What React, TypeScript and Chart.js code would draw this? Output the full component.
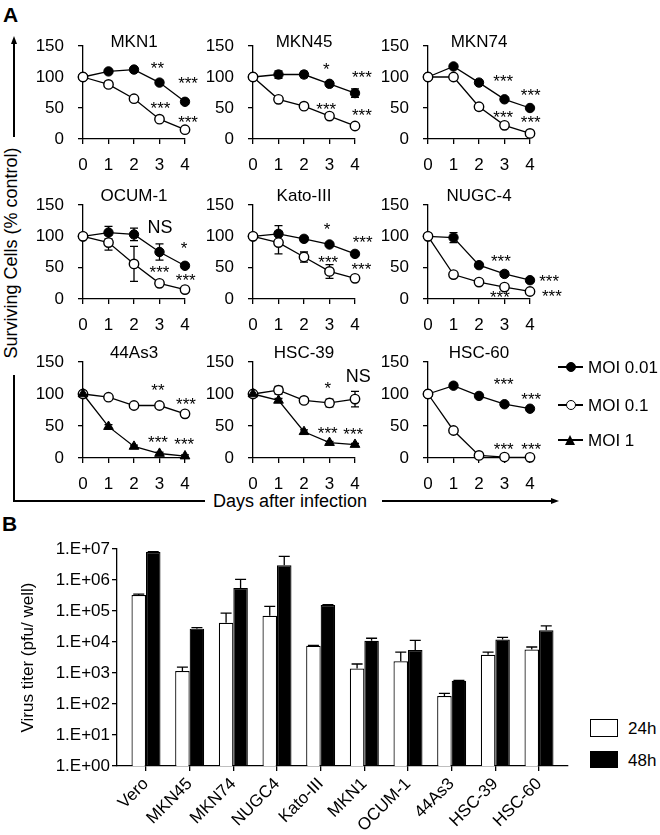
import React, { useEffect, useRef } from 'react';
import { Chart, registerables } from 'chart.js';

Chart.register(...registerables);

const FONT = '"Liberation Sans", Arial, Helvetica, sans-serif';

// ---------------- Panel A data ----------------
const days = [0, 1, 2, 3, 4];
const pctTicks = [0, 50, 100, 150];
const legendA = ['MOI 0.01', 'MOI 0.1', 'MOI 1'];

const mkn1Moi001 = [100, 109, 112, 91, 60];
const mkn1Moi001Err = [2, 2, 4, 3, 4];
const mkn1Moi01 = [100, 88, 65, 32, 15];
const mkn1Moi01Err = [2, 3, 2, 2, 2];
const mkn1Notes = [[2.92, 119, '**'], [4.12, 94, '***'], [3.04, 55, '***'], [4.12, 32, '***']];

const mkn45Moi001 = [100, 104, 104, 89, 74];
const mkn45Moi001Err = [2, 6, 5, 3, 7];
const mkn45Moi01 = [100, 64, 53, 37, 21];
const mkn45Moi01Err = [2, 3, 2, 2, 3];
const mkn45Notes = [[2.87, 118, '*'], [4.27, 104, '***'], [2.87, 53, '***'], [4.27, 43, '***']];

const mkn74Moi001 = [100, 117, 91, 64, 50];
const mkn74Moi001Err = [2, 3, 2, 3, 3];
const mkn74Moi01 = [100, 100, 52, 22, 9];
const mkn74Moi01Err = [2, 2, 5, 3, 2];
const mkn74Notes = [[2.95, 98, '***'], [4.03, 76, '***'], [2.95, 40, '***'], [4.03, 31, '***']];

const ocum1Moi001 = [100, 106, 103, 75, 53];
const ocum1Moi001Err = [3, 10, 10, 13, 4];
const ocum1Moi01 = [100, 90, 56, 25, 15];
const ocum1Moi01Err = [2, 12, 28, 3, 2];
const ocum1Notes = [[3.02, 113, 'NS'], [3.96, 86, '*'], [3.0, 48, '***'], [4.03, 34, '***']];

const kato3Moi001 = [100, 104, 96, 87, 72];
const kato3Moi001Err = [2, 13, 4, 3, 3];
const kato3Moi01 = [100, 90, 67, 44, 33];
const kato3Moi01Err = [2, 18, 8, 11, 3];
const kato3Notes = [[2.9, 116, '*'], [4.3, 96, '***'], [2.95, 64, '***'], [4.25, 52, '***']];

const nugc4Moi001 = [100, 98, 54, 40, 30];
const nugc4Moi001Err = [2, 8, 3, 4, 4];
const nugc4Moi01 = [100, 39, 27, 19, 12];
const nugc4Moi01Err = [2, 2, 2, 2, 2];
const nugc4Notes = [[2.86, 65, '***'], [4.75, 33, '***'], [2.82, 7, '***'], [4.86, 9, '***']];

const as44Moi01 = [100, 95, 82, 82, 69];
const as44Moi01Err = [2, 2, 2, 2, 3];
const as44Moi1 = [100, 49, 18, 7, 3];
const as44Moi1Err = [5, 3, 2, 2, 2];
const as44Notes = [[2.94, 111, '**'], [4.04, 89, '***'], [2.94, 29, '***'], [3.97, 26, '***']];

const hsc39Moi01 = [100, 106, 90, 86, 92];
const hsc39Moi01Err = [2, 6, 2, 6, 12];
const hsc39Moi1 = [100, 90, 41, 24, 21];
const hsc39Moi1Err = [3, 3, 3, 2, 2];
const hsc39Notes = [[2.93, 114, '*'], [4.13, 127, 'NS'], [2.93, 44, '***'], [3.93, 41, '***']];

const hsc60Moi001 = [100, 113, 97, 84, 77];
const hsc60Moi001Err = [2, 2, 2, 2, 2];
const hsc60Moi01 = [100, 43, 4, 1.5, 1];
const hsc60Moi01Err = [2, 2, 2, 1, 1];
const hsc60Notes = [[2.97, 120, '***'], [4.05, 97, '***'], [2.97, 18, '***'], [4.05, 18, '***']];

// ---------------- Panel B data ----------------
const cellLinesB = ['Vero', 'MKN45', 'MKN74', 'NUGC4', 'Kato-III', 'MKN1', 'OCUM-1', '44As3', 'HSC-39', 'HSC-60'];
const titer24h = [3.3e5, 1.15e3, 4.2e4, 7.0e4, 7.5e3, 1.4e3, 2.4e3, 1.8e2, 3.9e3, 5.7e3];
const titer24hSd = [2e4, 4.0e2, 4.3e4, 7.0e4, 3e2, 5.5e2, 2.3e3, 4e1, 8e2, 1.2e3];
const titer48h = [8.0e6, 2.7e4, 5.5e5, 3.0e6, 1.55e5, 1.1e4, 5.5e3, 5.6e2, 1.2e4, 2.4e4];
const titer48hSd = [2e5, 2e3, 4.9e5, 2.8e6, 5e3, 2.2e3, 5.7e3, 2e1, 2e3, 9e3];
const titerTicks = [1, 10, 100, 1e3, 1e4, 1e5, 1e6, 1e7];
const titerTickLabels = ['1.E+00', '1.E+01', '1.E+02', '1.E+03', '1.E+04', '1.E+05', '1.E+06', '1.E+07'];
const legendB = ['24h', '48h'];

type Kind = 'filled' | 'open' | 'tri';
const panels: any[] = [
  { title: 'MKN1', col: 0, row: 0, notes: mkn1Notes, series: [['filled', mkn1Moi001, mkn1Moi001Err], ['open', mkn1Moi01, mkn1Moi01Err]] },
  { title: 'MKN45', col: 1, row: 0, notes: mkn45Notes, series: [['filled', mkn45Moi001, mkn45Moi001Err], ['open', mkn45Moi01, mkn45Moi01Err]] },
  { title: 'MKN74', col: 2, row: 0, notes: mkn74Notes, series: [['filled', mkn74Moi001, mkn74Moi001Err], ['open', mkn74Moi01, mkn74Moi01Err]] },
  { title: 'OCUM-1', col: 0, row: 1, notes: ocum1Notes, series: [['filled', ocum1Moi001, ocum1Moi001Err], ['open', ocum1Moi01, ocum1Moi01Err]] },
  { title: 'Kato-III', col: 1, row: 1, notes: kato3Notes, series: [['filled', kato3Moi001, kato3Moi001Err], ['open', kato3Moi01, kato3Moi01Err]] },
  { title: 'NUGC-4', col: 2, row: 1, notes: nugc4Notes, series: [['filled', nugc4Moi001, nugc4Moi001Err], ['open', nugc4Moi01, nugc4Moi01Err]] },
  { title: '44As3', col: 0, row: 2, notes: as44Notes, series: [['open', as44Moi01, as44Moi01Err], ['tri', as44Moi1, as44Moi1Err]] },
  { title: 'HSC-39', col: 1, row: 2, notes: hsc39Notes, series: [['open', hsc39Moi01, hsc39Moi01Err], ['tri', hsc39Moi1, hsc39Moi1Err]] },
  { title: 'HSC-60', col: 2, row: 2, notes: hsc60Notes, series: [['filled', hsc60Moi001, hsc60Moi001Err], ['open', hsc60Moi01, hsc60Moi01Err]] },
];

// ---------------- layout ----------------
const colAxisX = [83, 253, 428];
const plotW = 102;
const rowTop = [46, 205, 362];
const rowBottom = [139, 299, 458];
const titleOffset = [3.5, 9, 9];
const Y_W = 60;
const PAD_T = 40;
const PAD_R = 48;
const X_H = 40;

const kindStyle: Record<Kind, any> = {
  filled: { pointStyle: 'circle', pointRadius: 4.7, pointBackgroundColor: '#000', pointBorderColor: '#000', pointBorderWidth: 1, order: 2 },
  open: { pointStyle: 'circle', pointRadius: 4.7, pointBackgroundColor: '#fff', pointBorderColor: '#000', pointBorderWidth: 1.4, order: 1 },
  tri: { pointStyle: 'triangle', pointRadius: 5.6, pointBackgroundColor: '#000', pointBorderColor: '#000', pointBorderWidth: 1, order: 0 },
};

function drawErrors(chart: any, mode: 'sym' | 'up', cap: number) {
  const { ctx } = chart;
  const ys = chart.scales.y;
  ctx.save();
  ctx.strokeStyle = '#000';
  ctx.lineWidth = 1.3;
  chart.data.datasets.forEach((ds: any, di: number) => {
    const errs = ds.errors;
    if (!errs) return;
    const meta = chart.getDatasetMeta(di);
    meta.data.forEach((el: any, i: number) => {
      const e = errs[i];
      if (!e) return;
      const v = ds.data[i].y;
      const px = el.x;
      const top = ys.getPixelForValue(v + e);
      const bot = mode === 'up' ? ys.getPixelForValue(v) : ys.getPixelForValue(Math.max(v - e, 0.0001));
      ctx.beginPath();
      ctx.moveTo(px, top);
      ctx.lineTo(px, bot);
      ctx.moveTo(px - cap, top);
      ctx.lineTo(px + cap, top);
      if (mode === 'sym') {
        ctx.moveTo(px - cap, bot);
        ctx.lineTo(px + cap, bot);
      }
      ctx.stroke();
    });
  });
  ctx.restore();
}

const symErrPlugin = {
  id: 'symErr',
  beforeDatasetsDraw(chart: any) {
    drawErrors(chart, 'sym', 4);
  },
};
const upErrPlugin = {
  id: 'upErr',
  afterDatasetsDraw(chart: any) {
    drawErrors(chart, 'up', 5.5);
  },
};

const makeNotesPlugin = (items: any[]) => ({
  id: 'notes',
  afterDatasetsDraw(chart: any) {
    const { ctx } = chart;
    ctx.save();
    ctx.fillStyle = '#000';
    ctx.textAlign = 'center';
    ctx.textBaseline = 'middle';
    for (const [x, v, t] of items) {
      const px = chart.scales.x.getPixelForValue(x);
      let py = chart.scales.y.getPixelForValue(v);
      if (t === 'NS') {
        ctx.font = `18px ${FONT}`;
      } else {
        ctx.font = `17px ${FONT}`;
        py += 4;
      }
      ctx.fillText(t, px, py);
    }
    ctx.restore();
  },
});

const makeTitlePlugin = (text: string, offset: number) => ({
  id: 'panelTitle',
  afterDraw(chart: any) {
    const { ctx, chartArea } = chart;
    ctx.save();
    ctx.font = `17px ${FONT}`;
    ctx.fillStyle = '#000';
    ctx.textAlign = 'center';
    ctx.textBaseline = 'middle';
    ctx.fillText(text, (chartArea.left + chartArea.right) / 2, chartArea.top - offset);
    ctx.restore();
  },
});

const axisGrid = { drawOnChartArea: false, drawTicks: true, tickLength: 5, color: '#000', lineWidth: 1.3 };
const axisBorder = { display: true, color: '#000', width: 1.3 };
const tickFont = { family: FONT, size: 17 };

function lineConfig(p: any): any {
  const datasets = p.series.map(([kind, values, errs]: any) => ({
    label: kind,
    data: values.map((v: number, i: number) => ({ x: days[i], y: v })),
    errors: errs,
    borderColor: '#000',
    borderWidth: 1.3,
    clip: false,
    tension: 0,
    ...kindStyle[kind as Kind],
  }));
  return {
    type: 'line',
    data: { datasets },
    options: {
      responsive: false,
      animation: false,
      events: [],
      layout: { padding: { top: PAD_T, right: PAD_R, left: 0, bottom: 0 } },
      plugins: { legend: { display: false }, tooltip: { enabled: false } },
      scales: {
        x: {
          type: 'linear',
          min: 0,
          max: 4,
          afterBuildTicks: (s: any) => { s.ticks = days.map((v) => ({ value: v })); },
          afterFit: (s: any) => { s.height = X_H; },
          grid: axisGrid,
          border: axisBorder,
          ticks: { color: '#000', font: tickFont, padding: 11, maxRotation: 0, autoSkip: false },
        },
        y: {
          type: 'linear',
          min: 0,
          max: 150,
          afterBuildTicks: (s: any) => { s.ticks = pctTicks.map((v) => ({ value: v })); },
          afterFit: (s: any) => { s.width = Y_W; },
          grid: axisGrid,
          border: axisBorder,
          ticks: { color: '#000', font: tickFont, padding: 14 },
        },
      },
    },
    plugins: [symErrPlugin, makeNotesPlugin(p.notes), makeTitlePlugin(p.title, titleOffset[p.row])],
  };
}

// Panel B geometry
const B_LEFT = 0;
const B_AXIS_X = 117;
const B_RIGHT = 568;
const B_TOP = 549;
const B_BOTTOM = 766;
const B_PAD_T = 15;
const B_X_H = 69;
const B_PAD_R = 10;

function barConfig(): any {
  return {
    type: 'bar',
    data: {
      datasets: [
        {
          label: legendB[0],
          data: titer24h.map((v, i) => ({ x: i, y: v })),
          errors: titer24hSd,
          backgroundColor: '#fff',
          borderColor: '#000',
          borderWidth: 1.2,
          categoryPercentage: 0.664,
          barPercentage: 1,
        },
        {
          label: legendB[1],
          data: titer48h.map((v, i) => ({ x: i, y: v })),
          errors: titer48hSd,
          backgroundColor: '#000',
          borderColor: '#000',
          borderWidth: 1.2,
          categoryPercentage: 0.664,
          barPercentage: 1,
        },
      ],
    },
    options: {
      responsive: false,
      animation: false,
      events: [],
      layout: { padding: { top: B_PAD_T, right: B_PAD_R, left: 0, bottom: 0 } },
      plugins: { legend: { display: false }, tooltip: { enabled: false } },
      scales: {
        x: {
          type: 'linear',
          min: -0.664,
          max: cellLinesB.length - 1 + 0.664,
          offset: false,
          afterBuildTicks: (s: any) => { s.ticks = cellLinesB.map((_, i) => ({ value: i })); },
          afterFit: (s: any) => { s.height = B_X_H; },
          grid: { ...axisGrid, offset: false },
          border: axisBorder,
          ticks: {
            color: '#000',
            font: tickFont,
            padding: 3,
            autoSkip: false,
            minRotation: 45,
            maxRotation: 45,
            callback: (_v: any, i: number) => cellLinesB[i],
          },
        },
        y: {
          type: 'logarithmic',
          min: 1,
          max: 1e7,
          afterBuildTicks: (s: any) => { s.ticks = titerTicks.map((v) => ({ value: v })); },
          afterFit: (s: any) => { s.width = B_AXIS_X - B_LEFT; },
          grid: axisGrid,
          border: axisBorder,
          ticks: { color: '#000', font: tickFont, padding: 2, callback: (_v: any, i: number) => titerTickLabels[i] },
          title: {
            display: true,
            text: 'Virus titer (pfu/ well)',
            color: '#000',
            font: { family: FONT, size: 17 },
            padding: { top: 18, bottom: 0 },
          },
        },
      },
    },
    plugins: [upErrPlugin],
  };
}

function ChartBox({ left, top, width, height, make }: any) {
  const ref = useRef<HTMLCanvasElement>(null);
  useEffect(() => {
    const chart = new Chart(ref.current as HTMLCanvasElement, make());
    return () => chart.destroy();
  }, []);
  return (
    <canvas
      ref={ref}
      width={width}
      height={height}
      style={{ position: 'absolute', left, top, width, height }}
    />
  );
}

const abs = (s: any) => ({ position: 'absolute' as const, ...s });
const bar = (l: number, t: number, w: number, h: number, key: string) => (
  <div key={key} style={abs({ left: l, top: t, width: w, height: h, background: '#000' })} />
);
const textAt = (x: number, y: number, text: string, size: number, extra: any = {}) => (
  <div
    style={abs({
      left: x,
      top: y,
      transform: 'translate(-50%, -50%)' + (extra.rotate ? ` rotate(${extra.rotate}deg)` : ''),
      fontSize: size,
      lineHeight: 1,
      whiteSpace: 'nowrap',
      fontFamily: FONT,
      color: '#000',
      fontWeight: extra.bold ? 'bold' : 'normal',
    })}
  >
    {text}
  </div>
);

function LegendMarker({ kind, cx, cy }: { kind: Kind; cx: number; cy: number }) {
  if (kind === 'tri') {
    return (
      <div
        style={abs({
          left: cx - 5.5,
          top: cy - 5.5,
          width: 0,
          height: 0,
          borderLeft: '5.5px solid transparent',
          borderRight: '5.5px solid transparent',
          borderBottom: '10px solid #000',
        })}
      />
    );
  }
  return (
    <div
      style={abs({
        left: cx - 5,
        top: cy - 5,
        width: 10,
        height: 10,
        boxSizing: 'border-box',
        borderRadius: '50%',
        border: '1.4px solid #000',
        background: kind === 'filled' ? '#000' : '#fff',
      })}
    />
  );
}

const legendAY = [367, 405, 440];
const legendAKinds: Kind[] = ['filled', 'open', 'tri'];

export default function App() {
  return (
    <div style={abs({ left: 0, top: 0, width: 660, height: 835, background: '#fff', overflow: 'hidden', fontFamily: FONT })}>
      {/* panel letters */}
      <div style={abs({ left: 3, top: 4, fontSize: 21, lineHeight: 1, fontWeight: 'bold', fontFamily: FONT })}>A</div>
      <div style={abs({ left: 2, top: 513, fontSize: 21, lineHeight: 1, fontWeight: 'bold', fontFamily: FONT })}>B</div>

      {/* panel A frame arrows */}
      {bar(13.4, 43, 1.3, 94, 'v1')}
      <div style={abs({ left: 10.5, top: 36, width: 0, height: 0, borderLeft: '3.5px solid transparent', borderRight: '3.5px solid transparent', borderBottom: '8px solid #000' })} />
      {bar(13.4, 375, 1.3, 127, 'v2')}
      {bar(13.4, 500.4, 192, 1.3, 'h1')}
      {bar(382, 500.4, 170, 1.3, 'h2')}
      <div style={abs({ left: 551, top: 497.5, width: 0, height: 0, borderTop: '3.5px solid transparent', borderBottom: '3.5px solid transparent', borderLeft: '8px solid #000' })} />
      {textAt(11, 253, 'Surviving Cells (% control)', 18, { rotate: -90 })}
      {textAt(290, 501, 'Days after infection', 18)}

      {panels.map((p, idx) => {
        const left = colAxisX[p.col] - Y_W;
        const top = rowTop[p.row] - PAD_T;
        const width = Y_W + plotW + PAD_R;
        const height = PAD_T + (rowBottom[p.row] - rowTop[p.row]) + X_H;
        return <ChartBox key={idx} left={left} top={top} width={width} height={height} make={() => lineConfig(p)} />;
      })}

      {/* legend A */}
      {legendA.map((lab, i) => (
        <React.Fragment key={lab}>
          {bar(558, legendAY[i] - 0.65, 25, 1.3, 'l' + i)}
          <LegendMarker kind={legendAKinds[i]} cx={570.5} cy={legendAY[i]} />
          <div style={abs({ left: 588, top: legendAY[i], transform: 'translateY(-50%)', fontSize: 17, lineHeight: 1, whiteSpace: 'nowrap', fontFamily: FONT })}>{lab}</div>
        </React.Fragment>
      ))}

      {/* panel B */}
      <ChartBox
        left={B_LEFT}
        top={B_TOP - B_PAD_T}
        width={B_RIGHT + B_PAD_R - B_LEFT}
        height={B_PAD_T + (B_BOTTOM - B_TOP) + B_X_H}
        make={barConfig}
      />

      {/* legend B */}
      <div style={abs({ left: 590, top: 719, width: 28, height: 18, boxSizing: 'border-box', border: '1.2px solid #000', background: '#fff' })} />
      <div style={abs({ left: 628, top: 728, transform: 'translateY(-50%)', fontSize: 17, lineHeight: 1, fontFamily: FONT })}>{legendB[0]}</div>
      <div style={abs({ left: 590, top: 751, width: 28, height: 17, background: '#000' })} />
      <div style={abs({ left: 628, top: 760, transform: 'translateY(-50%)', fontSize: 17, lineHeight: 1, fontFamily: FONT })}>{legendB[1]}</div>
    </div>
  );
}
